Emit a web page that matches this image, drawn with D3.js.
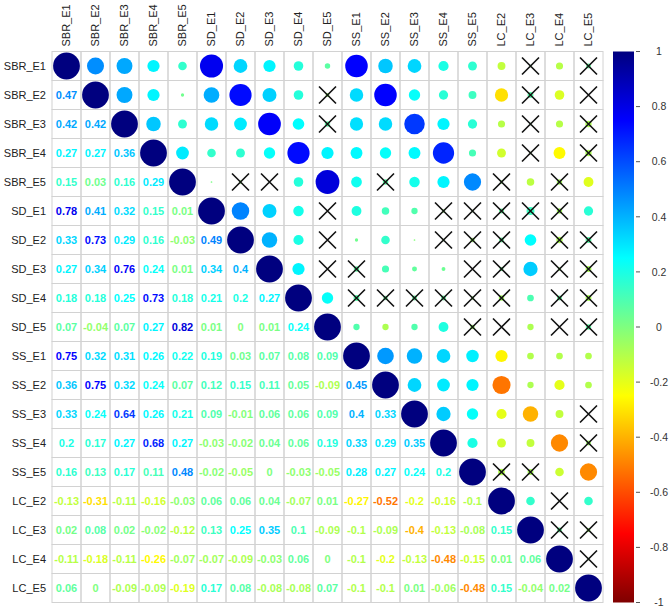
<!doctype html>
<html>
<head>
  <meta charset="utf-8">
  <script src="https://d3js.org/d3.v7.min.js"></script>
  <style>
    body { margin: 0; background: #fff; }
    svg text { font-family: "Liberation Sans", Arial, sans-serif; }
  </style>
</head>
<body>
  <svg width="670" height="608"></svg>
  <script>
    var names = ["SBR_E1", "SBR_E2", "SBR_E3", "SBR_E4", "SBR_E5",
                 "SD_E1", "SD_E2", "SD_E3", "SD_E4", "SD_E5",
                 "SS_E1", "SS_E2", "SS_E3", "SS_E4", "SS_E5",
                 "LC_E2", "LC_E3", "LC_E4", "LC_E5"];

    // lower triangle, row i holds cor(i, 0..i-1)
    var lower = [
      [],
      [0.47],
      [0.42, 0.42],
      [0.27, 0.27, 0.36],
      [0.15, 0.03, 0.16, 0.29],
      [0.78, 0.41, 0.32, 0.15, 0.01],
      [0.33, 0.73, 0.29, 0.16, -0.03, 0.49],
      [0.27, 0.34, 0.76, 0.24, 0.01, 0.34, 0.4],
      [0.18, 0.18, 0.25, 0.73, 0.18, 0.21, 0.2, 0.27],
      [0.07, -0.04, 0.07, 0.27, 0.82, 0.01, 0, 0.01, 0.24],
      [0.75, 0.32, 0.31, 0.26, 0.22, 0.19, 0.03, 0.07, 0.08, 0.09],
      [0.36, 0.75, 0.32, 0.24, 0.07, 0.12, 0.15, 0.11, 0.05, -0.09, 0.45],
      [0.33, 0.24, 0.64, 0.26, 0.21, 0.09, -0.01, 0.06, 0.06, 0.09, 0.4, 0.33],
      [0.2, 0.17, 0.27, 0.68, 0.27, -0.03, -0.02, 0.04, 0.06, 0.19, 0.33, 0.29, 0.35],
      [0.16, 0.13, 0.17, 0.11, 0.48, -0.02, -0.05, 0, -0.03, -0.05, 0.28, 0.27, 0.24, 0.2],
      [-0.13, -0.31, -0.11, -0.16, -0.03, 0.06, 0.06, 0.04, -0.07, 0.01, -0.27, -0.52, -0.2, -0.16, -0.1],
      [0.02, 0.08, 0.02, -0.02, -0.12, 0.13, 0.25, 0.35, 0.1, -0.09, -0.1, -0.09, -0.4, -0.13, -0.08, 0.15],
      [-0.11, -0.18, -0.11, -0.26, -0.07, -0.07, -0.09, -0.03, 0.06, 0, -0.1, -0.2, -0.13, -0.48, -0.15, 0.01, 0.06],
      [0.06, 0, -0.09, -0.09, -0.19, 0.17, 0.08, -0.08, -0.08, 0.07, -0.1, -0.1, 0.01, -0.06, -0.48, 0.15, -0.04, 0.02]
    ];

    // non significant pairs (row, col) in the upper triangle
    var insig = [
      [0, 16], [0, 18],
      [1, 9], [1, 16], [1, 18],
      [2, 9], [2, 16], [2, 18],
      [3, 16], [3, 18],
      [4, 6], [4, 7], [4, 11], [4, 15], [4, 17],
      [5, 9], [5, 13], [5, 14], [5, 15], [5, 16], [5, 17],
      [6, 9], [6, 13], [6, 14], [6, 15], [6, 17], [6, 18],
      [7, 9], [7, 10], [7, 14], [7, 15], [7, 17], [7, 18],
      [8, 10], [8, 11], [8, 12], [8, 13], [8, 14], [8, 15], [8, 17], [8, 18],
      [9, 14], [9, 15], [9, 17], [9, 18],
      [12, 18], [13, 18], [14, 15], [14, 16], [15, 17], [16, 17], [16, 18], [17, 18]
    ];

    var barTicks = [1, 0.8, 0.6, 0.4, 0.2, 0, -0.2, -0.4, -0.6, -0.8, -1];

    var jet = ["#7F0000", "#FF0000", "#FF7F00", "#FFFF00", "#7FFF7F",
               "#00FFFF", "#007FFF", "#0000FF", "#00007F"];

    var svg = d3.select("svg");
    var gLeft = 52, gTop = 51.5, gSize = 551;

    var x = d3.scaleBand().domain(names).range([gLeft, gLeft + gSize]);
    var y = d3.scaleBand().domain(names).range([gTop, gTop + gSize]);
    var bw = x.bandwidth();

    var color = d3.scaleLinear()
      .domain(jet.map(function(d, i) { return -1 + i * 2 / (jet.length - 1); }))
      .range(jet);

    var rad = d3.scalePow().exponent(0.6).domain([0, 1]).range([0, 13.4]);

    function cor(i, j) {
      if (i == j) return 1;
      return i > j ? lower[i][j] : lower[j][i];
    }

    var cells = [];
    names.forEach(function(a, i) {
      names.forEach(function(b, j) {
        cells.push({ i: i, j: j, v: cor(i, j) });
      });
    });

    // grid
    svg.append("g").selectAll("rect")
      .data(cells)
      .enter()
      .append("rect")
      .attr("x", function(d) { return x(names[d.j]); })
      .attr("y", function(d) { return y(names[d.i]); })
      .attr("width", bw)
      .attr("height", bw)
      .attr("fill", "none")
      .attr("stroke", "#d2d2d2")
      .attr("stroke-width", 1);

    // circles on upper triangle and diagonal
    svg.append("g").selectAll("circle")
      .data(cells.filter(function(d) { return d.j >= d.i; }))
      .enter()
      .append("circle")
      .attr("cx", function(d) { return x(names[d.j]) + bw / 2; })
      .attr("cy", function(d) { return y(names[d.i]) + bw / 2; })
      .attr("r", function(d) { return rad(Math.abs(d.v)); })
      .attr("fill", function(d) { return color(d.v); });

    // crosses for non significant
    svg.append("g")
      .selectAll("path")
      .data(insig)
      .enter()
      .append("path")
      .attr("transform", function(p) {
        return "translate(" + (x(names[p[1]]) + bw / 2) + "," + (y(names[p[0]]) + bw / 2) + ")";
      })
      .attr("d", "M-8.5,-8.5L8.5,8.5M-8.5,8.5L8.5,-8.5")
      .attr("stroke", "#111")
      .attr("stroke-width", 1.6)
      .attr("fill", "none");

    // numbers on lower triangle
    svg.append("g").selectAll("text")
      .data(cells.filter(function(d) { return d.i > d.j; }))
      .enter()
      .append("text")
      .attr("x", function(d) { return x(names[d.j]) + bw / 2; })
      .attr("y", function(d) { return y(names[d.i]) + bw / 2; })
      .attr("dy", "0.36em")
      .attr("text-anchor", "middle")
      .attr("font-size", "11px")
      .attr("font-weight", "bold")
      .attr("fill", function(d) { return color(d.v); })
      .text(function(d) { return String(d.v); });

    // row labels
    svg.append("g").selectAll("text")
      .data(names)
      .enter()
      .append("text")
      .attr("x", gLeft - 6)
      .attr("y", function(d) { return y(d) + bw / 2; })
      .attr("dy", "0.36em")
      .attr("text-anchor", "end")
      .attr("font-size", "11px")
      .attr("fill", "#222")
      .text(function(d) { return d; });

    // column labels
    svg.append("g").selectAll("text")
      .data(names)
      .enter()
      .append("text")
      .attr("transform", function(d) {
        return "translate(" + (x(d) + bw / 2) + "," + (gTop - 5) + ") rotate(-90)";
      })
      .attr("dy", "0.36em")
      .attr("text-anchor", "start")
      .attr("font-size", "11px")
      .attr("fill", "#222")
      .text(function(d) { return d; });

    // colour bar
    var barX = 613, barW = 21;
    var yb = d3.scaleLinear().domain([1, -1]).range([gTop, gTop + gSize]);
    var grad = svg.append("defs").append("linearGradient")
      .attr("id", "jetgrad")
      .attr("x1", 0).attr("y1", 1).attr("x2", 0).attr("y2", 0);
    jet.forEach(function(c, i) {
      grad.append("stop")
        .attr("offset", (i / (jet.length - 1) * 100) + "%")
        .attr("stop-color", c);
    });
    svg.append("rect")
      .attr("x", barX)
      .attr("y", gTop)
      .attr("width", barW)
      .attr("height", gSize)
      .attr("fill", "url(#jetgrad)");

    var tk = svg.append("g").selectAll("g")
      .data(barTicks)
      .enter()
      .append("g")
      .attr("transform", function(d) { return "translate(0," + yb(d) + ")"; });
    tk.append("line")
      .attr("x1", barX + barW + 2)
      .attr("x2", barX + barW + 6)
      .attr("stroke", "#555");
    tk.append("text")
      .attr("x", 659)
      .attr("dy", "0.36em")
      .attr("text-anchor", "middle")
      .attr("font-size", "10.5px")
      .attr("fill", "#333")
      .text(function(d) { return String(d); });
  </script>
</body>
</html>
